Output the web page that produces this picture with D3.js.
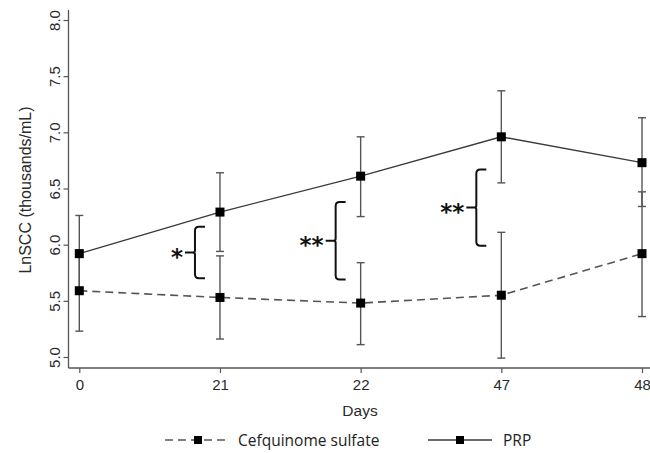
<!DOCTYPE html>
<html>
<head>
<meta charset="utf-8">
<script src="https://cdn.jsdelivr.net/npm/d3@7"></script>
<style>
  html, body { margin: 0; padding: 0; background: #fff; }
  svg { display: block; }
</style>
</head>
<body>
<svg id="chart" width="650" height="453"></svg>
<script>
// Sampling days (categorical axis)
const days = ["0", "21", "22", "47", "48"];

// Cefquinome sulfate group: mean LnSCC with lower/upper error limits
const cefMean  = [5.59, 5.53, 5.48, 5.55, 5.92];
const cefLow   = [5.23, 5.16, 5.11, 4.99, 5.36];
const cefHigh  = [5.95, 5.90, 5.84, 6.11, 6.47];

// PRP group
const prpMean  = [5.92, 6.29, 6.61, 6.96, 6.73];
const prpLow   = [5.58, 5.94, 6.25, 6.55, 6.34];
const prpHigh  = [6.26, 6.64, 6.96, 7.37, 7.13];

// Y-axis ticks
const yTicks = [5.0, 5.5, 6.0, 6.5, 7.0, 7.5, 8.0];

// Significance brackets between groups
const sigDay   = ["21", "22", "47"];
const sigTop   = [6.16, 6.38, 6.67];
const sigBot   = [5.70, 5.69, 5.99];
const sigLabel = ["*", "**", "**"];

const svg = d3.select("#chart");

const x = d3.scalePoint().domain(days).range([79.3, 642]);
const y = d3.scaleLinear().domain([5, 8]).range([357, 20]);

const axisFont = "'Liberation Sans', Arial, sans-serif";
const plotLeft = 68.5, plotBottom = 368;

// Y axis
const yAxis = svg.append("g")
  .attr("transform", `translate(${plotLeft},0)`)
  .call(d3.axisLeft(y).tickValues(yTicks).tickFormat(d3.format(".1f")).tickSize(5).tickSizeOuter(0));
yAxis.attr("font-family", axisFont).attr("font-size", 15);
yAxis.select(".domain").remove();
yAxis.append("line")
  .attr("x1", 0).attr("x2", 0).attr("y1", 10).attr("y2", plotBottom)
  .attr("stroke", "#555").attr("stroke-width", 1.3);
yAxis.selectAll(".tick line").attr("stroke", "#555").attr("stroke-width", 1.2);
yAxis.selectAll(".tick text")
  .attr("x", 0)
  .attr("text-anchor", "middle")
  .attr("transform", "translate(-14,0) rotate(-90)")
  .attr("dy", "0.35em")
  .attr("fill", "#2a2a2a");

// X axis
const xAxis = svg.append("g")
  .attr("transform", `translate(0,${plotBottom})`)
  .call(d3.axisBottom(x).tickSize(5).tickSizeOuter(0).tickPadding(6));
xAxis.attr("font-family", axisFont).attr("font-size", 15);
xAxis.select(".domain").remove();
xAxis.append("line")
  .attr("x1", plotLeft).attr("x2", 650).attr("y1", 0).attr("y2", 0)
  .attr("stroke", "#555").attr("stroke-width", 1.3);
xAxis.selectAll(".tick line").attr("stroke", "#555").attr("stroke-width", 1.2);
xAxis.selectAll(".tick text").attr("fill", "#2a2a2a");

// Axis titles
svg.append("text")
  .attr("transform", `translate(31,190) rotate(-90)`)
  .attr("text-anchor", "middle")
  .attr("font-family", axisFont)
  .attr("font-size", 16)
  .attr("fill", "#2a2a2a")
  .text("LnSCC (thousands/mL)");

svg.append("text")
  .attr("x", 360).attr("y", 416)
  .attr("text-anchor", "middle")
  .attr("font-family", axisFont)
  .attr("font-size", 15.5)
  .attr("fill", "#2a2a2a")
  .text("Days");

// Error bars
function errorBars(low, high) {
  const g = svg.append("g").attr("stroke", "#555").attr("stroke-width", 1.4);
  days.forEach((d, i) => {
    const cx = x(d);
    g.append("line").attr("x1", cx).attr("x2", cx).attr("y1", y(low[i])).attr("y2", y(high[i]));
    g.append("line").attr("x1", cx - 4).attr("x2", cx + 4).attr("y1", y(low[i])).attr("y2", y(low[i]));
    g.append("line").attr("x1", cx - 4).attr("x2", cx + 4).attr("y1", y(high[i])).attr("y2", y(high[i]));
  });
}
errorBars(cefLow, cefHigh);
errorBars(prpLow, prpHigh);

// Mean lines
const line = d3.line().x((d, i) => x(days[i])).y(d => y(d));
svg.append("path")
  .datum(cefMean)
  .attr("d", line)
  .attr("fill", "none")
  .attr("stroke", "#555")
  .attr("stroke-width", 1.6)
  .attr("stroke-dasharray", "8,5");
svg.append("path")
  .datum(prpMean)
  .attr("d", line)
  .attr("fill", "none")
  .attr("stroke", "#3a3a3a")
  .attr("stroke-width", 1.4);

// Markers
const ms = 9;
[cefMean, prpMean].forEach(series => {
  svg.append("g").selectAll("rect")
    .data(series)
    .join("rect")
    .attr("x", (d, i) => x(days[i]) - ms / 2)
    .attr("y", d => y(d) - ms / 2)
    .attr("width", ms).attr("height", ms)
    .attr("fill", "#000");
});

// Significance braces
const brace = svg.append("g");
sigDay.forEach((d, i) => {
  const bx = x(d) - 25;
  const t = y(sigTop[i]), b = y(sigBot[i]), m = (t + b) / 2;
  const w = 10, r = 4;
  const p = d3.path();
  p.moveTo(bx + w, t);
  p.lineTo(bx + r, t);
  p.quadraticCurveTo(bx, t, bx, t + r);
  p.lineTo(bx, m - 2);
  p.quadraticCurveTo(bx, m, bx - 2, m);
  p.lineTo(bx - 10, m);
  p.moveTo(bx - 2, m);
  p.quadraticCurveTo(bx, m, bx, m + 2);
  p.lineTo(bx, b - r);
  p.quadraticCurveTo(bx, b, bx + r, b);
  p.lineTo(bx + w, b);
  brace.append("path")
    .attr("d", p.toString())
    .attr("fill", "none")
    .attr("stroke", "#111")
    .attr("stroke-width", 2);
  brace.append("text")
    .attr("x", bx - 12)
    .attr("y", m + 12)
    .attr("text-anchor", "end")
    .attr("font-family", "'DejaVu Sans', sans-serif")
    .attr("font-weight", "bold")
    .attr("font-size", 23)
    .attr("fill", "#111")
    .text(sigLabel[i]);
});

// Legend
const legFont = "'Open Sans', 'Noto Sans', sans-serif";
const ly = 440;
const leg = svg.append("g");
leg.append("line")
  .attr("x1", 165).attr("x2", 229).attr("y1", ly).attr("y2", ly)
  .attr("stroke", "#555").attr("stroke-width", 1.6).attr("stroke-dasharray", "8,5");
leg.append("rect").attr("x", 194).attr("y", ly - 4).attr("width", 8).attr("height", 8).attr("fill", "#000");
leg.append("text")
  .attr("x", 238).attr("y", ly + 5.5)
  .attr("font-family", legFont).attr("font-size", 15.5).attr("fill", "#222")
  .text("Cefquinome sulfate");
leg.append("line")
  .attr("x1", 428).attr("x2", 492).attr("y1", ly).attr("y2", ly)
  .attr("stroke", "#3a3a3a").attr("stroke-width", 1.4);
leg.append("rect").attr("x", 456).attr("y", ly - 4).attr("width", 8).attr("height", 8).attr("fill", "#000");
leg.append("text")
  .attr("x", 503).attr("y", ly + 5.5)
  .attr("font-family", legFont).attr("font-size", 15.5).attr("fill", "#222")
  .text("PRP");
</script>
</body>
</html>
